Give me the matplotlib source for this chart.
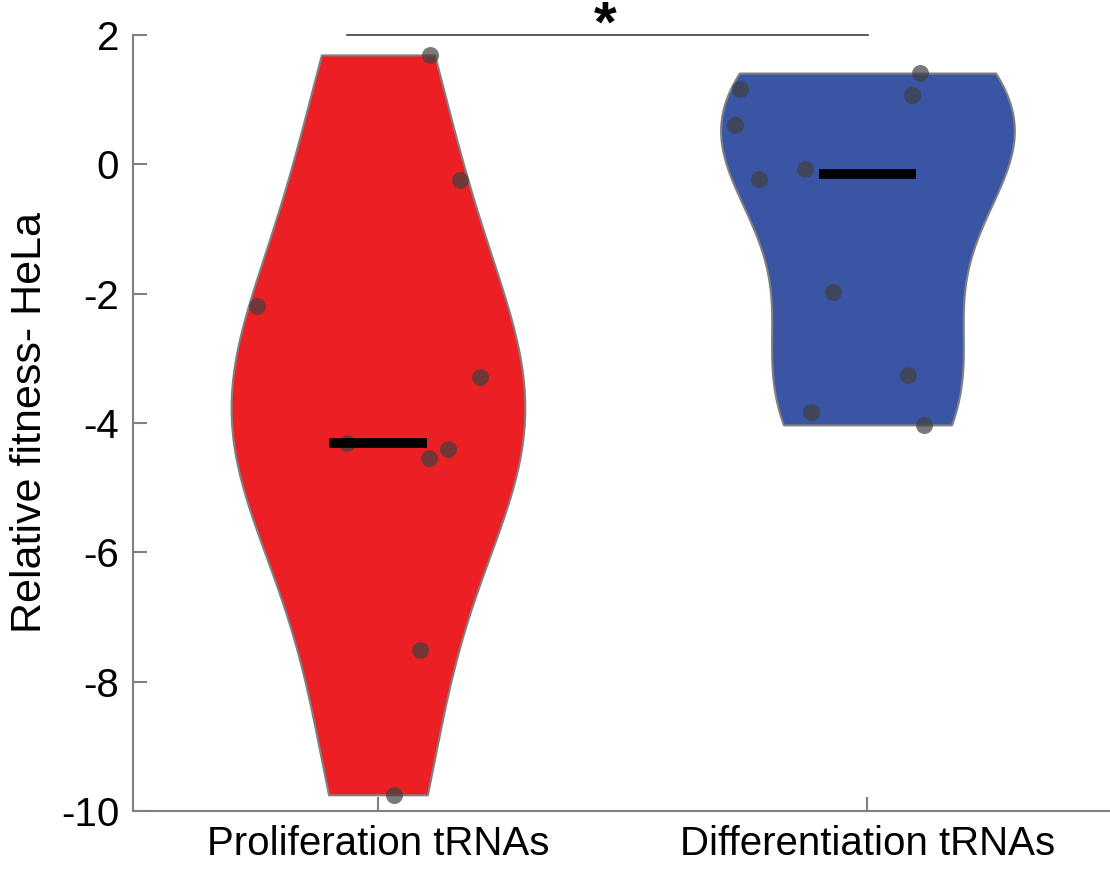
import numpy as np
import matplotlib
matplotlib.use("Agg")
import matplotlib.pyplot as plt

plt.rcParams["font.family"] = ["Liberation Sans", "DejaVu Sans"]

categories = ["Proliferation tRNAs", "Differentiation tRNAs"]

prolif_vals = [1.69, -0.24, -2.19, -3.29, -4.31, -4.40, -4.54, -7.51, -9.75]
prolif_jitter = [0.106, 0.167, -0.247, 0.208, -0.063, 0.143, 0.104, 0.086, 0.033]

diff_vals = [1.41, 1.07, 1.165, 0.61, -0.23, -0.07, -1.97, -3.26, -3.83, -4.03]
diff_jitter = [0.108, 0.090, -0.261, -0.271, -0.222, -0.127, -0.071, 0.082, -0.116, 0.116]

colors = ["#EC2024", "#3A55A4"]
ylabel = "Relative fitness- HeLa"
yticks = [-10, -8, -6, -4, -2, 0, 2]
sig_label = "*"


def kde_profile(data, n=200):
    # ksdensity-style normal kernel, truncated at data range
    data = np.asarray(data, dtype=float)
    med = np.median(data)
    sig = np.median(np.abs(data - med)) / 0.6745
    bw = sig * (4.0 / (3.0 * len(data))) ** 0.2
    grid = np.linspace(data.min(), data.max(), n)
    dens = np.exp(-0.5 * ((grid[:, None] - data[None, :]) / bw) ** 2).sum(axis=1)
    dens /= len(data) * bw * np.sqrt(2 * np.pi)
    return grid, dens


fig = plt.figure(figsize=(11.1, 8.72), dpi=100)
ax = fig.add_axes([0.12, 0.07, 0.882, 0.89])

groups = [(prolif_vals, prolif_jitter), (diff_vals, diff_jitter)]
for i, (vals, jit) in enumerate(groups):
    pos = i + 1
    grid, dens = kde_profile(vals)
    half = 0.3 * dens / dens.max()
    ax.fill_betweenx(grid, pos - half, pos + half, facecolor=colors[i],
                     edgecolor="#808080", linewidth=1.5, zorder=2)
    ax.scatter(pos + np.array(jit), vals, s=150, color="#404040", alpha=0.7,
               linewidths=0, zorder=3)
    ax.plot([pos - 0.1, pos + 0.1], [np.median(vals)] * 2, color="black",
            linewidth=7, solid_capstyle="butt", zorder=4)

ax.set_xlim(0.5, 2.5)
ax.set_ylim(-10, 2)
ax.set_xticks([1, 2])
ax.set_xticklabels(categories)
ax.set_yticks(yticks)
ax.set_yticklabels([str(t) for t in yticks])
ax.set_ylabel(ylabel, fontsize=31, labelpad=8)

for s in ["top", "right"]:
    ax.spines[s].set_visible(False)
for s in ["left", "bottom"]:
    ax.spines[s].set_color("#808080")
    ax.spines[s].set_linewidth(1.5)
ax.tick_params(direction="in", length=10, width=1.5, color="#808080",
               labelsize=29, labelcolor="black", pad=10)

# significance bar
ax.plot([0.937, 2.002], [2, 2], color="#404040", linewidth=1.2, clip_on=False)
ax.text(1.465, 1.89, sig_label, ha="center", va="baseline", fontsize=42,
        fontweight="bold", clip_on=False)

fig.savefig("out.png", dpi=100)
